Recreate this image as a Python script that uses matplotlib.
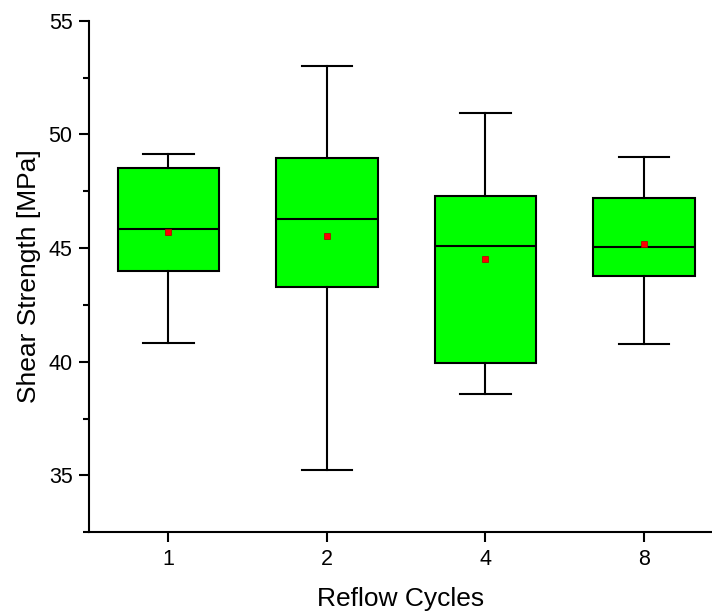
import matplotlib
matplotlib.use("Agg")
import matplotlib.pyplot as plt
from matplotlib.ticker import MultipleLocator

plt.rcParams['font.family'] = ['Liberation Sans', 'DejaVu Sans']

# data
cycles = ['1', '2', '4', '8']
whislo = [40.83, 35.26, 38.59, 40.76]
q1 = [43.97, 43.27, 39.95, 43.77]
med = [45.86, 46.29, 45.10, 45.04]
q3 = [48.54, 48.94, 47.28, 47.22]
whishi = [49.13, 53.00, 50.96, 49.00]
mean = [45.70, 45.51, 44.50, 45.16]

stats = []
for i in range(len(cycles)):
    stats.append(dict(label=cycles[i], whislo=whislo[i], q1=q1[i], med=med[i],
                      q3=q3[i], whishi=whishi[i], mean=mean[i], fliers=[]))

fig = plt.figure(figsize=(7.12, 6.12), dpi=100)
ax = fig.add_axes([0.1253, 0.1302, 0.8747, 0.836])

lw = 1.5
ax.bxp(stats, positions=range(1, len(cycles) + 1), widths=0.64,
       patch_artist=True, showmeans=True, showfliers=False,
       boxprops=dict(facecolor='#00ff00', edgecolor='black', linewidth=lw),
       medianprops=dict(color='black', linewidth=lw),
       whiskerprops=dict(color='black', linewidth=lw),
       capprops=dict(color='black', linewidth=lw),
       capwidths=0.32,
       meanprops=dict(marker='s', markerfacecolor='#ff0000',
                      markeredgecolor='#b00000', markeredgewidth=0.5,
                      markersize=5))

ax.set_xlim(0.5, 4.43)
ax.set_ylim(32.5, 55)
ax.yaxis.set_minor_locator(MultipleLocator(2.5))
ax.set_yticks([35, 40, 45, 50, 55])

ax.spines['right'].set_color('none')
ax.spines['top'].set_color('none')
ax.spines['left'].set_linewidth(lw)
ax.spines['bottom'].set_linewidth(lw)

ax.tick_params(axis='both', which='major', direction='out', length=7,
               width=lw, labelsize=15.5, pad=5)
ax.tick_params(axis='y', which='minor', direction='out', length=4, width=lw)
ax.tick_params(axis='x', which='minor', bottom=False)

ax.set_xlabel('Reflow Cycles', fontsize=19, labelpad=12)
ax.set_ylabel('Shear Strength [MPa]', fontsize=19, labelpad=5)

fig.savefig("out.png", dpi=100)
